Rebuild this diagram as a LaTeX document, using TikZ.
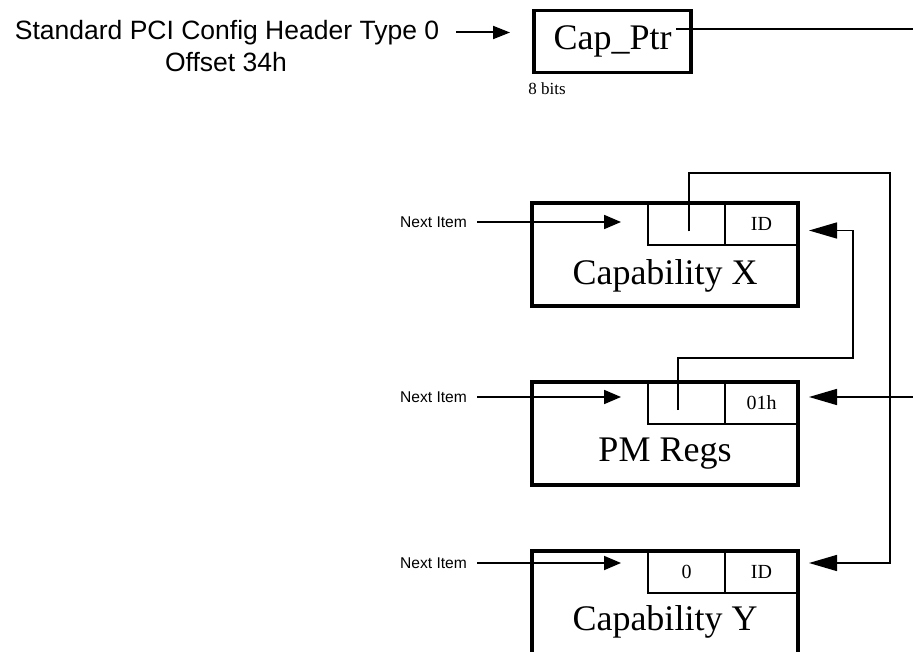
\documentclass[tikz,border=0pt]{standalone}
\usepackage{fontspec}
\setmainfont{Liberation Serif}
\newfontfamily\arialfont{Liberation Sans}
\usetikzlibrary{arrows.meta}

\tikzset{
  capbox/.style={draw, line width=3.8pt, inner sep=0pt, outer sep=0pt,
                 minimum width=266pt, minimum height=103pt},
  ptrbox/.style={draw, line width=3.8pt, inner sep=0pt, outer sep=0pt,
                 minimum width=157pt, minimum height=62pt,
                 font=\fontsize{36}{40}\selectfont},
  cellbox/.style={draw, line width=1.3pt, inner sep=0pt, outer sep=0pt,
                  minimum height=42pt, anchor=north west,
                  font=\fontsize{20}{22}\selectfont},
  biglabel/.style={inner sep=0pt, font=\fontsize{36}{40}\selectfont},
  sanslabel/.style={inner sep=0pt, font=\arialfont\fontsize{26.5}{29}\selectfont},
  nextlabel/.style={inner sep=0pt, font=\arialfont\fontsize{15.6}{18}\selectfont},
  smalllabel/.style={inner sep=0pt, font=\fontsize{17}{19}\selectfont},
  wire/.style={line width=1.5pt, line join=miter},
  linktip/.style={-{Triangle[length=28pt,width=16pt]}},
  nexttip/.style={line width=1.8pt, -{Triangle[length=17pt,width=14pt]}},
  hdrtip/.style={line width=2pt, -{Triangle[length=17pt,width=13pt]}}
}

\begin{document}
\begin{tikzpicture}[x=1pt,y=-1pt]
\useasboundingbox (0,0) rectangle (913,652);
\clip (0,0) rectangle (913,652);

% header pointer
\node[sanslabel] (std1) at (227,32.5) {Standard PCI Config Header Type 0};
\node[sanslabel] (std2) at (226,62.5) {Offset 34h};
\node[ptrbox] (capptr) at (612.5,41.5) {Cap\_Ptr};
\node[smalllabel] (bits) at (547,89) {8 bits};
\draw[hdrtip, shorten <=17pt, shorten >=24pt] (std1.east) -- (std1.east -| capptr.west);

% Capability X
\node[cellbox, minimum width=77pt] (xptr) at (648,203) {};
\node[cellbox, minimum width=73pt] (xid) at (725,203) {ID};
\node[capbox] (capX) at (665,254.5) {};
\node[biglabel] (xlabel) at (665,276) {Capability X};

% PM Regs
\node[cellbox, minimum width=77pt] (pmptr) at (648,382) {};
\node[cellbox, minimum width=73pt] (pmid) at (725,382) {01h};
\node[capbox] (capPM) at (665,433.5) {};
\node[biglabel] (pmlabel) at (665,454) {PM Regs};

% Capability Y
\node[cellbox, minimum width=77pt] (yptr) at (648,551) {0};
\node[cellbox, minimum width=73pt] (yid) at (725,551) {ID};
\node[capbox] (capY) at (665,602.5) {};
\node[biglabel] (ylabel) at (665,622) {Capability Y};

% "Next Item" entries
\node[nextlabel] (nx1) at (433.5,222) {Next Item};
\node[nextlabel] (nx2) at (433.5,397) {Next Item};
\node[nextlabel] (nx3) at (433.5,563) {Next Item};
\draw[nexttip, shorten <=10pt, shorten >=27pt] (nx1.east) -- (nx1.east -| xptr.west);
\draw[nexttip, shorten <=10pt, shorten >=27pt] (nx2.east) -- (nx2.east -| pmptr.west);
\draw[nexttip, shorten <=10pt, shorten >=27pt] (nx3.east) -- (nx3.east -| yptr.west);

% list links
\coordinate (capout) at (676,29);
\coordinate (railC) at (930,29);
\coordinate (railR) at (890,173);
\coordinate (railM) at (853,358);

\draw[wire, linktip] (capout) -- (railC) |- ([xshift=11pt,yshift=6pt]pmid.east);
\draw[wire, linktip] ([xshift=2.5pt,yshift=-7.5pt]xptr.center) |- (railR)
  |- ([xshift=11pt,yshift=9pt]yid.east);
\draw[wire, linktip] ([xshift=-8.5pt,yshift=-7pt]pmptr.center) |- (railM)
  |- ([xshift=11pt,yshift=-6.5pt]xid.east);
\end{tikzpicture}
\end{document}
